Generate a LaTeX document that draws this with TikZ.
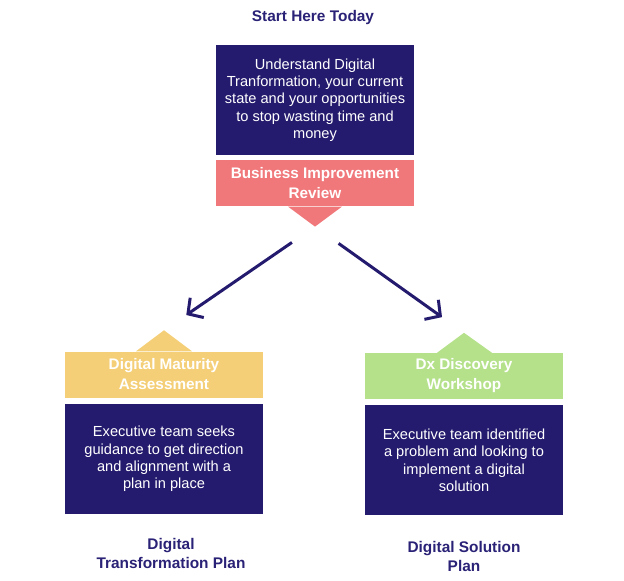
\documentclass[tikz,border=0pt]{standalone}
\usepackage{fontspec}
\setmainfont{Liberation Sans}
\definecolor{navy}{HTML}{241B6E}
\definecolor{navytext}{HTML}{2A2276}
\definecolor{coral}{HTML}{F0777A}
\definecolor{sand}{HTML}{F4CF77}
\definecolor{lime}{HTML}{B4E18A}
\usetikzlibrary{arrows.meta,positioning,calc}
\tikzset{
  info_box/.style={fill=navy,minimum width=198pt,minimum height=110pt,
    inner sep=0pt,align=center,text=white,font=\fontsize{14.6}{17.3}\selectfont},
  head_box/.style={minimum width=198pt,minimum height=46pt,inner sep=0pt,
    align=center,text=white,font=\fontsize{15.3}{20}\selectfont\bfseries},
  plan_lbl/.style={align=center,text=navytext,font=\fontsize{15.4}{19}\selectfont\bfseries},
  arr/.style={draw=navy,line width=3pt,
    -{Straight Barb[length=11pt,width=24pt,line width=3pt]}},
}
\begin{document}
\begin{tikzpicture}[x=1pt,y=-1pt]
  \useasboundingbox (0,0) rectangle (624,581);

  \node[plan_lbl] (start) at (313,18) {Start Here Today};

  \node[info_box] (understand) at (315,100) {Understand Digital\\Tranformation, your current\\state and your opportunities\\to stop wasting time and\\money};
  \node[head_box,fill=coral,below=5pt of understand] (review) {Business Improvement\\Review};
  \fill[coral] ($(review.south)+(-27,0)$) -- ($(review.south)+(0,20)$) -- ($(review.south)+(27,0)$) -- cycle;
  \coordinate (review_tip) at ($(review.south)+(0,20)$);

  % left branch
  \node[head_box,fill=sand] (maturity) at (164,374.5) {Digital Maturity\\Assessment};
  \fill[sand] ($(maturity.north)+(-28,0)$) -- ($(maturity.north)+(0,-21)$) -- ($(maturity.north)+(28,0)$) -- cycle;
  \coordinate (maturity_tip) at ($(maturity.north)+(0,-21)$);
  \node[info_box,below=6pt of maturity] (seeks) {Executive team seeks\\guidance to get direction\\and alignment with a\\plan in place};
  \node[plan_lbl] (transplan) at (171,553) {Digital\\Transformation Plan};

  % right branch
  \node[head_box,fill=lime] (workshop) at (464,376) {Dx Discovery\\Workshop};
  \fill[lime] ($(workshop.north)+(-27,0)$) -- ($(workshop.north)+(0,-20)$) -- ($(workshop.north)+(28,0)$) -- cycle;
  \coordinate (workshop_tip) at ($(workshop.north)+(0,-20)$);
  \node[info_box,below=6pt of workshop] (identified) {Executive team identified\\a problem and looking to\\implement a digital\\solution};
  \node[plan_lbl] (solplan) at (464,556) {Digital Solution\\Plan};

  \draw[arr,shorten <=28pt,shorten >=27pt] (review_tip) -- (maturity_tip);
  \draw[arr,shorten <=29pt,shorten >=27pt] (review_tip) -- (workshop_tip);
\end{tikzpicture}
\end{document}
